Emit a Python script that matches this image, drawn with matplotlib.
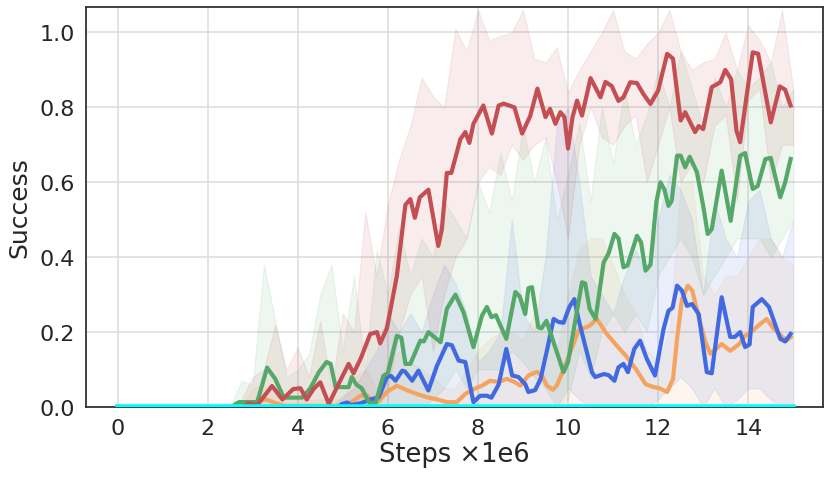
import numpy as np
import matplotlib
matplotlib.use("Agg")
import matplotlib.pyplot as plt

# mean curves (x in 1e6 steps)
red_x = [0, 2.8, 2.9, 3.1, 3.43, 3.66, 3.9, 4.06, 4.2, 4.35, 4.5, 4.69, 4.9, 5.13, 5.24, 5.4, 5.61, 5.76, 5.83,
         5.98, 6.2, 6.39, 6.5, 6.6, 6.71, 6.9, 7.12, 7.2, 7.31, 7.41, 7.61, 7.72, 7.81, 7.9, 8.12, 8.31, 8.46,
         8.57, 8.81, 8.98, 9.16, 9.32, 9.5, 9.6, 9.72, 9.83, 9.92, 10.0, 10.1, 10.2, 10.31, 10.5, 10.72, 10.83,
         10.97, 11.12, 11.23, 11.38, 11.53, 11.67, 11.83, 12.0, 12.2, 12.33, 12.5, 12.6, 12.82, 12.9, 13.0,
         13.19, 13.38, 13.49, 13.62, 13.74, 13.82, 14.1, 14.22, 14.5, 14.7, 14.82, 14.94]
red_y = [0, 0, 0.01, 0.005, 0.056, 0.02, 0.048, 0.05, 0.02, 0.048, 0.066, 0.008, 0.06, 0.115, 0.09, 0.13, 0.195,
         0.2, 0.17, 0.21, 0.35, 0.54, 0.555, 0.505, 0.56, 0.58, 0.43, 0.475, 0.625, 0.625, 0.715, 0.734, 0.705,
         0.756, 0.805, 0.73, 0.805, 0.81, 0.8, 0.73, 0.777, 0.85, 0.774, 0.796, 0.756, 0.787, 0.774, 0.69,
         0.774, 0.818, 0.778, 0.878, 0.827, 0.868, 0.857, 0.817, 0.827, 0.867, 0.865, 0.836, 0.809, 0.845,
         0.943, 0.93, 0.765, 0.787, 0.734, 0.75, 0.742, 0.854, 0.867, 0.9, 0.875, 0.737, 0.707, 0.947, 0.943,
         0.76, 0.856, 0.847, 0.805]

green_x = [0, 2.55, 2.62, 2.7, 3.1, 3.32, 3.5, 3.69, 3.9, 4.1, 4.28, 4.47, 4.64, 4.73, 4.84, 5.13, 5.2, 5.3,
           5.42, 5.58, 5.72, 5.9, 6.0, 6.2, 6.3, 6.39, 6.5, 6.72, 6.8, 6.9, 7.0, 7.17, 7.31, 7.5, 7.68, 7.9,
           8.09, 8.2, 8.3, 8.4, 8.63, 8.83, 8.93, 9.05, 9.12, 9.2, 9.34, 9.41, 9.52, 9.9, 10.0, 10.31, 10.38,
           10.48, 10.61, 10.79, 10.9, 11.03, 11.12, 11.23, 11.32, 11.53, 11.62, 11.72, 11.83, 11.96, 12.05,
           12.14, 12.23, 12.3, 12.42, 12.5, 12.6, 12.7, 12.86, 13.0, 13.1, 13.19, 13.41, 13.61, 13.82, 13.93,
           14.1, 14.21, 14.38, 14.5, 14.71, 14.82, 14.94]
green_y = [0, 0, 0.008, 0.013, 0.013, 0.105, 0.075, 0.025, 0.025, 0.025, 0.05, 0.093, 0.12, 0.115, 0.053,
           0.053, 0.08, 0.06, 0.05, 0.013, 0.008, 0.083, 0.09, 0.19, 0.185, 0.115, 0.115, 0.177, 0.175, 0.2,
           0.19, 0.173, 0.262, 0.3, 0.253, 0.16, 0.244, 0.267, 0.24, 0.245, 0.182, 0.307, 0.295, 0.248, 0.317,
           0.32, 0.213, 0.21, 0.23, 0.093, 0.12, 0.333, 0.33, 0.262, 0.235, 0.386, 0.41, 0.462, 0.45, 0.373,
           0.378, 0.457, 0.44, 0.364, 0.38, 0.547, 0.6, 0.58, 0.537, 0.55, 0.671, 0.671, 0.64, 0.668, 0.627,
           0.537, 0.462, 0.475, 0.631, 0.497, 0.671, 0.678, 0.582, 0.59, 0.662, 0.665, 0.56, 0.6, 0.662]

blue_x = [0, 4.9, 4.98, 5.1, 5.18, 5.4, 5.61, 5.8, 5.98, 6.07, 6.17, 6.32, 6.38, 6.54, 6.68, 6.9, 7.09, 7.31,
          7.42, 7.57, 7.72, 7.9, 8.05, 8.2, 8.3, 8.46, 8.63, 8.76, 8.9, 9.05, 9.12, 9.27, 9.39, 9.53, 9.68,
          9.79, 9.9, 10.03, 10.14, 10.23, 10.38, 10.53, 10.6, 10.8, 10.9, 11.03, 11.12, 11.23, 11.33, 11.47,
          11.6, 11.75, 11.93, 12.12, 12.23, 12.32, 12.42, 12.53, 12.64, 12.75, 12.9, 13.08, 13.19, 13.41,
          13.6, 13.7, 13.82, 13.93, 14.03, 14.1, 14.3, 14.46, 14.71, 14.82, 14.94]
blue_y = [0, 0, 0.008, 0.012, 0.005, 0.01, 0.02, 0.026, 0.08, 0.083, 0.07, 0.097, 0.095, 0.07, 0.097, 0.044,
          0.11, 0.168, 0.165, 0.124, 0.12, 0.013, 0.03, 0.03, 0.025, 0.06, 0.155, 0.084, 0.08, 0.061, 0.04,
          0.045, 0.075, 0.15, 0.235, 0.227, 0.225, 0.267, 0.288, 0.235, 0.164, 0.093, 0.08, 0.088, 0.085, 0.07,
          0.106, 0.115, 0.093, 0.155, 0.177, 0.128, 0.084, 0.208, 0.257, 0.265, 0.324, 0.31, 0.27, 0.275,
          0.248, 0.093, 0.09, 0.293, 0.187, 0.187, 0.2, 0.16, 0.167, 0.267, 0.288, 0.267, 0.182, 0.175, 0.195]

orange_x = [0, 2.9, 3.17, 3.3, 3.45, 3.7, 5.0, 5.2, 5.39, 5.54, 5.68, 5.8, 5.98, 6.2, 6.42, 6.64, 6.87, 7.1,
            7.31, 7.53, 7.72, 7.9, 8.09, 8.27, 8.46, 8.64, 8.79, 8.94, 9.12, 9.31, 9.42, 9.53, 9.66, 9.75, 9.9,
            10.12, 10.23, 10.34, 10.48, 10.64, 10.86, 11.08, 11.31, 11.53, 11.72, 11.9, 12.03, 12.2, 12.33,
            12.42, 12.53, 12.66, 12.76, 12.9, 13.05, 13.16, 13.27, 13.41, 13.6, 13.8, 13.93, 14.1, 14.27,
            14.41, 14.56, 14.75, 14.86, 14.94]
orange_y = [0, 0, 0.017, 0.02, 0.013, 0.003, 0.003, 0.013, 0.03, 0.03, 0.013, 0.015, 0.04, 0.057, 0.045,
            0.035, 0.026, 0.02, 0.013, 0.013, 0.035, 0.047, 0.057, 0.07, 0.067, 0.075, 0.068, 0.057, 0.084,
            0.094, 0.084, 0.057, 0.046, 0.057, 0.1, 0.168, 0.204, 0.21, 0.217, 0.235, 0.195, 0.164, 0.133, 0.097,
            0.061, 0.053, 0.05, 0.04, 0.075, 0.182, 0.288, 0.324, 0.31, 0.24, 0.173, 0.142, 0.153, 0.168, 0.15,
            0.168, 0.19, 0.204, 0.222, 0.235, 0.21, 0.187, 0.178, 0.187]

cyan_x = [0, 15]
cyan_y = [0, 0]

# shaded spread, one value every 0.25 from 2.5 to 15
band_x = np.arange(2.5, 15.01, 0.25)
red_hi = [0, 0.02, 0.08, 0.1, 0.22, 0.1, 0.16, 0.08, 0.23, 0.05, 0.25, 0.2, 0.52, 0.35, 0.54, 0.66, 0.75,
          0.88, 0.83, 0.8, 1.01, 0.95, 1.06, 0.98, 0.99, 1.0, 1.06, 0.93, 0.92, 0.96, 0.84, 0.9, 0.95, 1.0,
          1.06, 0.95, 0.93, 0.97, 1.0, 1.06, 0.95, 0.9, 0.92, 0.93, 1.0, 0.9, 1.02, 0.98, 0.92, 1.06, 0.85]
red_lo = [0, 0, 0, 0, 0, 0, 0, 0, 0, 0, 0, 0, 0, 0.02, 0.05, 0.2, 0.3, 0.35, 0.15, 0.3, 0.4, 0.45, 0.6,
          0.64, 0.62, 0.7, 0.66, 0.7, 0.72, 0.6, 0.45, 0.7, 0.8, 0.72, 0.7, 0.75, 0.78, 0.6, 0.7, 0.8, 0.6,
          0.65, 0.6, 0.75, 0.78, 0.55, 0.82, 0.85, 0.6, 0.7, 0.7]
green_hi = [0, 0.07, 0.06, 0.38, 0.23, 0.08, 0.1, 0.14, 0.3, 0.38, 0.15, 0.35, 0.1, 0.42, 0.3, 0.48, 0.35,
            0.45, 0.4, 0.55, 0.5, 0.45, 0.6, 0.52, 0.68, 0.55, 0.75, 0.6, 0.72, 0.5, 0.62, 0.76, 0.55, 0.8,
            0.65, 0.85, 0.7, 0.78, 0.9, 0.8, 0.95, 0.85, 0.75, 0.88, 0.8, 0.9, 0.85, 0.88, 0.92, 0.8, 0.85]
green_lo = [0, 0, 0, 0, 0, 0, 0, 0, 0, 0, 0, 0, 0, 0, 0, 0, 0, 0, 0.02, 0.05, 0.1, 0.05, 0.1, 0.1, 0.1, 0.15,
            0.12, 0.08, 0.05, 0.0, 0.02, 0.15, 0.08, 0.2, 0.25, 0.2, 0.25, 0.2, 0.35, 0.4, 0.45, 0.4, 0.3,
            0.35, 0.4, 0.45, 0.45, 0.45, 0.4, 0.45, 0.5]
blue_hi = [0, 0, 0, 0, 0, 0, 0, 0, 0, 0, 0.03, 0.05, 0.1, 0.15, 0.25, 0.2, 0.25, 0.2, 0.3, 0.38, 0.33, 0.25,
           0.12, 0.15, 0.2, 0.5, 0.25, 0.2, 0.4, 0.75, 0.8, 0.6, 0.35, 0.3, 0.25, 0.35, 0.42, 0.35, 0.5, 0.62,
           0.58, 0.5, 0.3, 0.55, 0.45, 0.4, 0.55, 0.58, 0.45, 0.4, 0.5]
blue_lo = [0] * 29 + [0, 0.05, 0.02, 0, 0, 0, 0, 0, 0, 0.02, 0.05, 0.08, 0.05, 0, 0.05, 0, 0.02, 0.05,
                      0.05, 0.02, 0, 0]
orange_hi = [0, 0, 0.05, 0.06, 0.03, 0.02, 0.02, 0.02, 0.02, 0.02, 0.02, 0.08, 0.1, 0.05, 0.12, 0.15, 0.12,
             0.1, 0.08, 0.05, 0.05, 0.1, 0.15, 0.18, 0.2, 0.2, 0.18, 0.25, 0.2, 0.15, 0.3, 0.42, 0.45, 0.45,
             0.38, 0.3, 0.25, 0.15, 0.12, 0.2, 0.6, 0.6, 0.35, 0.3, 0.35, 0.35, 0.4, 0.45, 0.45, 0.4, 0.38]
orange_lo = [0] * 51

RED = "#C44E52"
GREEN = "#55A868"
BLUE = "#4169E1"
ORANGE = "#F4A460"
CYAN = "#00FFFF"

plt.rcParams['font.family'] = ['DejaVu Sans']
fig = plt.figure(figsize=(8.3, 4.81), dpi=100)
ax = fig.add_axes([0.1036, 0.1518, 0.888, 0.8316])

for lo, hi, c in [(orange_lo, orange_hi, ORANGE), (blue_lo, blue_hi, BLUE),
                  (green_lo, green_hi, GREEN), (red_lo, red_hi, RED)]:
    ax.fill_between(band_x, lo, hi, color=c, alpha=0.1, lw=0.8)

ax.plot(orange_x, orange_y, color=ORANGE, lw=3)
ax.plot(blue_x, blue_y, color=BLUE, lw=3)
ax.plot(green_x, green_y, color=GREEN, lw=3)
ax.plot(red_x, red_y, color=RED, lw=3)
ax.plot(cyan_x, cyan_y, color=CYAN, lw=4, zorder=5)

ax.set_xlim(-0.7, 15.66)
ax.set_ylim(0, 1.068)
ax.set_xticks([0, 2, 4, 6, 8, 10, 12, 14])
ax.set_yticks([0.0, 0.2, 0.4, 0.6, 0.8, 1.0])
ax.grid(True, color="#dcdcdc", lw=1.1)
ax.set_axisbelow(True)
ax.tick_params(length=0, labelsize=16, colors="#262626", pad=8)
for s in ax.spines.values():
    s.set_color("#333333")
    s.set_linewidth(1.3)
ax.set_xlabel("Steps \u00d71e6", fontsize=18.5, color="#262626", labelpad=2)
ax.set_ylabel("Success", fontsize=18, color="#262626", labelpad=6)

fig.savefig("out.png", dpi=100)
